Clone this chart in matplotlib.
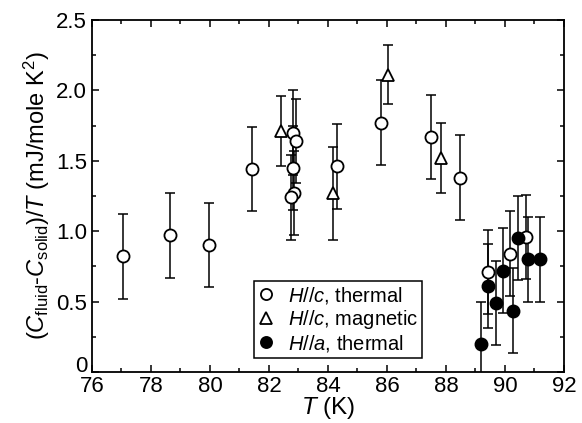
import matplotlib
matplotlib.use("Agg")
import matplotlib.pyplot as plt
from matplotlib.lines import Line2D
from matplotlib.ticker import MultipleLocator, FixedLocator

plt.rcParams['font.family'] = ['Liberation Sans', 'DejaVu Sans']
plt.rcParams['mathtext.fontset'] = 'custom'
plt.rcParams['mathtext.rm'] = 'Liberation Sans'
plt.rcParams['mathtext.it'] = 'Liberation Sans:italic'

# H//c, thermal (open circles)
thermal_c_T = [77.06, 78.64, 79.97, 81.41, 82.82, 82.92, 82.80, 82.86, 82.75,
               84.32, 85.79, 87.48, 88.47, 89.43, 90.17, 90.73]
thermal_c_y = [0.82, 0.97, 0.90, 1.44, 1.70, 1.64, 1.45, 1.27, 1.24,
               1.46, 1.77, 1.67, 1.38, 0.71, 0.84, 0.96]
thermal_c_err = [0.3] * len(thermal_c_T)

# H//c, magnetic (open triangles)
magnetic_c_T = [82.42, 84.16, 86.02, 87.83]
magnetic_c_y = [1.71, 1.27, 2.11, 1.52]
magnetic_c_err = [0.25, 0.33, 0.21, 0.25]

# H//a, thermal (filled circles)
thermal_a_T = [89.18, 89.43, 89.68, 89.92, 90.26, 90.43, 90.79, 91.19]
thermal_a_y = [0.20, 0.61, 0.49, 0.72, 0.435, 0.95, 0.80, 0.80]
thermal_a_err = [0.3] * len(thermal_a_T)

xticks = [76, 78, 80, 82, 84, 86, 88, 90, 92]
yticks = [0, 0.5, 1.0, 1.5, 2.0, 2.5]
ytick_labels = ['0', '0.5', '1.0', '1.5', '2.0', '2.5']

fig, ax = plt.subplots(figsize=(5.82, 4.23), dpi=100)
fig.subplots_adjust(left=0.158, right=0.969, top=0.953, bottom=0.1206)

eb_kw = dict(fmt='none', ecolor='black', elinewidth=1.1, capsize=3.8,
             capthick=1.1, zorder=2)
ax.errorbar(thermal_c_T, thermal_c_y, yerr=thermal_c_err, **eb_kw)
ax.errorbar(magnetic_c_T, magnetic_c_y, yerr=magnetic_c_err, **eb_kw)
ax.errorbar(thermal_a_T, thermal_a_y, yerr=thermal_a_err, **eb_kw)

ax.plot(thermal_c_T, thermal_c_y, 'o', ms=8.7, mfc='white', mec='black',
        mew=1.3, zorder=3)
ax.plot(magnetic_c_T, magnetic_c_y, '^', ms=8.7, mfc='white', mec='black',
        mew=1.3, zorder=3)
ax.plot(thermal_a_T, thermal_a_y, 'o', ms=8.7, mfc='black', mec='black',
        mew=1.3, zorder=4)

ax.set_xlim(76, 92)
ax.set_ylim(0, 2.5)
ax.xaxis.set_major_locator(FixedLocator(xticks))
ax.xaxis.set_minor_locator(MultipleLocator(1))
ax.yaxis.set_major_locator(FixedLocator(yticks))
ax.set_yticklabels(ytick_labels)
ax.yaxis.set_minor_locator(MultipleLocator(0.25))
ax.tick_params(which='both', direction='in', top=True, right=True,
               width=1.1, labelsize=16)
ax.tick_params(axis='x', pad=3)
ax.tick_params(which='major', length=5)
ax.tick_params(which='minor', length=3)
for sp in ax.spines.values():
    sp.set_linewidth(1.3)
# the "0" sits on the axis line, clear of the "76" below it
ax.get_yticklabels()[0].set_verticalalignment('baseline')

ax.set_xlabel(r'$T$ (K)', fontsize=17.5, labelpad=-1.5)
ax.set_ylabel(r'($C_{\rm fluid}$-$C_{\rm solid}$)/$T$ (mJ/mole K$^2$)',
              fontsize=17, labelpad=3)

handles = [
    Line2D([], [], ls='none', marker='o', ms=8, mfc='white', mec='black', mew=1.3),
    Line2D([], [], ls='none', marker='^', ms=8, mfc='white', mec='black', mew=1.3),
    Line2D([], [], ls='none', marker='o', ms=8, mfc='black', mec='black', mew=1.3),
]
labels = [r'$H$//$c$, thermal', r'$H$//$c$, magnetic', r'$H$//$a$, thermal']
leg = ax.legend(handles, labels, loc='lower left', bbox_to_anchor=(0.343, 0.04),
                fontsize=14.5, frameon=True, fancybox=False, framealpha=1,
                edgecolor='black', handlelength=0.8, handletextpad=0.7,
                borderpad=0.2, labelspacing=0.1, borderaxespad=0)
leg.get_frame().set_linewidth(1.1)

fig.savefig('out.png', dpi=100)
